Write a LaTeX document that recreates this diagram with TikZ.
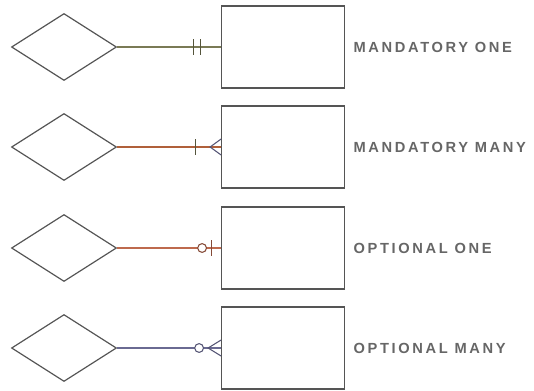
\documentclass[tikz,border=0pt]{standalone}
\usepackage{fontspec}
\setmainfont{Liberation Sans}
\usetikzlibrary{positioning,shapes.geometric,calc}

\definecolor{inkgray}{HTML}{555555}
\definecolor{linkone}{HTML}{7A7A55}
\definecolor{linktwo}{HTML}{B0603A}
\definecolor{linkthree}{HTML}{BE6A4E}
\definecolor{linkfour}{HTML}{6A6A92}

\tikzset{
  relship/.style={draw=inkgray, line width=0.9pt, shape=diamond, inner sep=0pt,
    minimum width=78.75pt, minimum height=50.25pt},
  entity/.style={draw=inkgray, line width=0.9pt, rectangle, inner sep=0pt,
    minimum width=92.25pt, minimum height=61.5pt},
  kind/.style={text=inkgray!90, font=\addfontfeatures{LetterSpace=18}\fontsize{11}{13}\selectfont\bfseries,
    inner sep=0pt, anchor=west},
  link/.style={line width=0.8pt}
}

\begin{document}
\begin{tikzpicture}[x=0.75pt, y=-0.75pt]
\useasboundingbox (0,0) rectangle (534,390);

\node(R1)   [relship] at (64,47)     {};
\node(R2)   [relship] at (64,147)    {};
\node(R3)   [relship] at (64,248)    {};
\node(R4)   [relship] at (64,348)    {};
\node(E1)   [entity, right=78pt of R1]   {};
\node(E2)   [entity, right=78pt of R2]   {};
\node(E3)   [entity, right=78pt of R3]   {};
\node(E4)   [entity, right=78pt of R4]   {};
\node(L1)   [kind, right=6pt of E1]  {MANDATORY ONE};
\node(L2)   [kind, right=6pt of E2]  {MANDATORY MANY};
\node(L3)   [kind, right=6pt of E3]  {OPTIONAL ONE};
\node(L4)   [kind, right=6pt of E4]  {OPTIONAL MANY};

% mandatory one: two bars
\draw[link, linkone]   (R1.east) -- (E1.west);
\draw[link, linkone!70!black] ($(E1.west)+(-28,-8)$) -- ++(0,16);
\draw[link, linkone!70!black] ($(E1.west)+(-21,-8)$) -- ++(0,16);

% mandatory many: bar and crow's foot
\draw[link, linktwo]   (R2.east) -- (E2.west);
\draw[link, linkone!70!black] ($(E2.west)+(-26,-8)$) -- ++(0,16);
\draw[link, linkfour!80!black] ($(E2.west)+(0,-8)$) -- ($(E2.west)+(-11,0)$) -- ($(E2.west)+(0,8)$);

% optional one: circle and bar
\draw[link, linkthree] (R3.east) -- (E3.west);
\draw[link, linkthree!70!black, fill=white] ($(E3.west)+(-19,0)$) circle[radius=3.3pt];
\draw[link, linkthree!70!black] ($(E3.west)+(-10,-8)$) -- ++(0,16);

% optional many: circle and crow's foot
\draw[link, linkfour]  (R4.east) -- (E4.west);
\draw[link, linkfour!80!black, fill=white] ($(E4.west)+(-22,0)$) circle[radius=3.3pt];
\draw[link, linkfour!80!black] ($(E4.west)+(0,-8)$) -- ($(E4.west)+(-13,0)$) -- ($(E4.west)+(0,8)$);
\end{tikzpicture}
\end{document}
